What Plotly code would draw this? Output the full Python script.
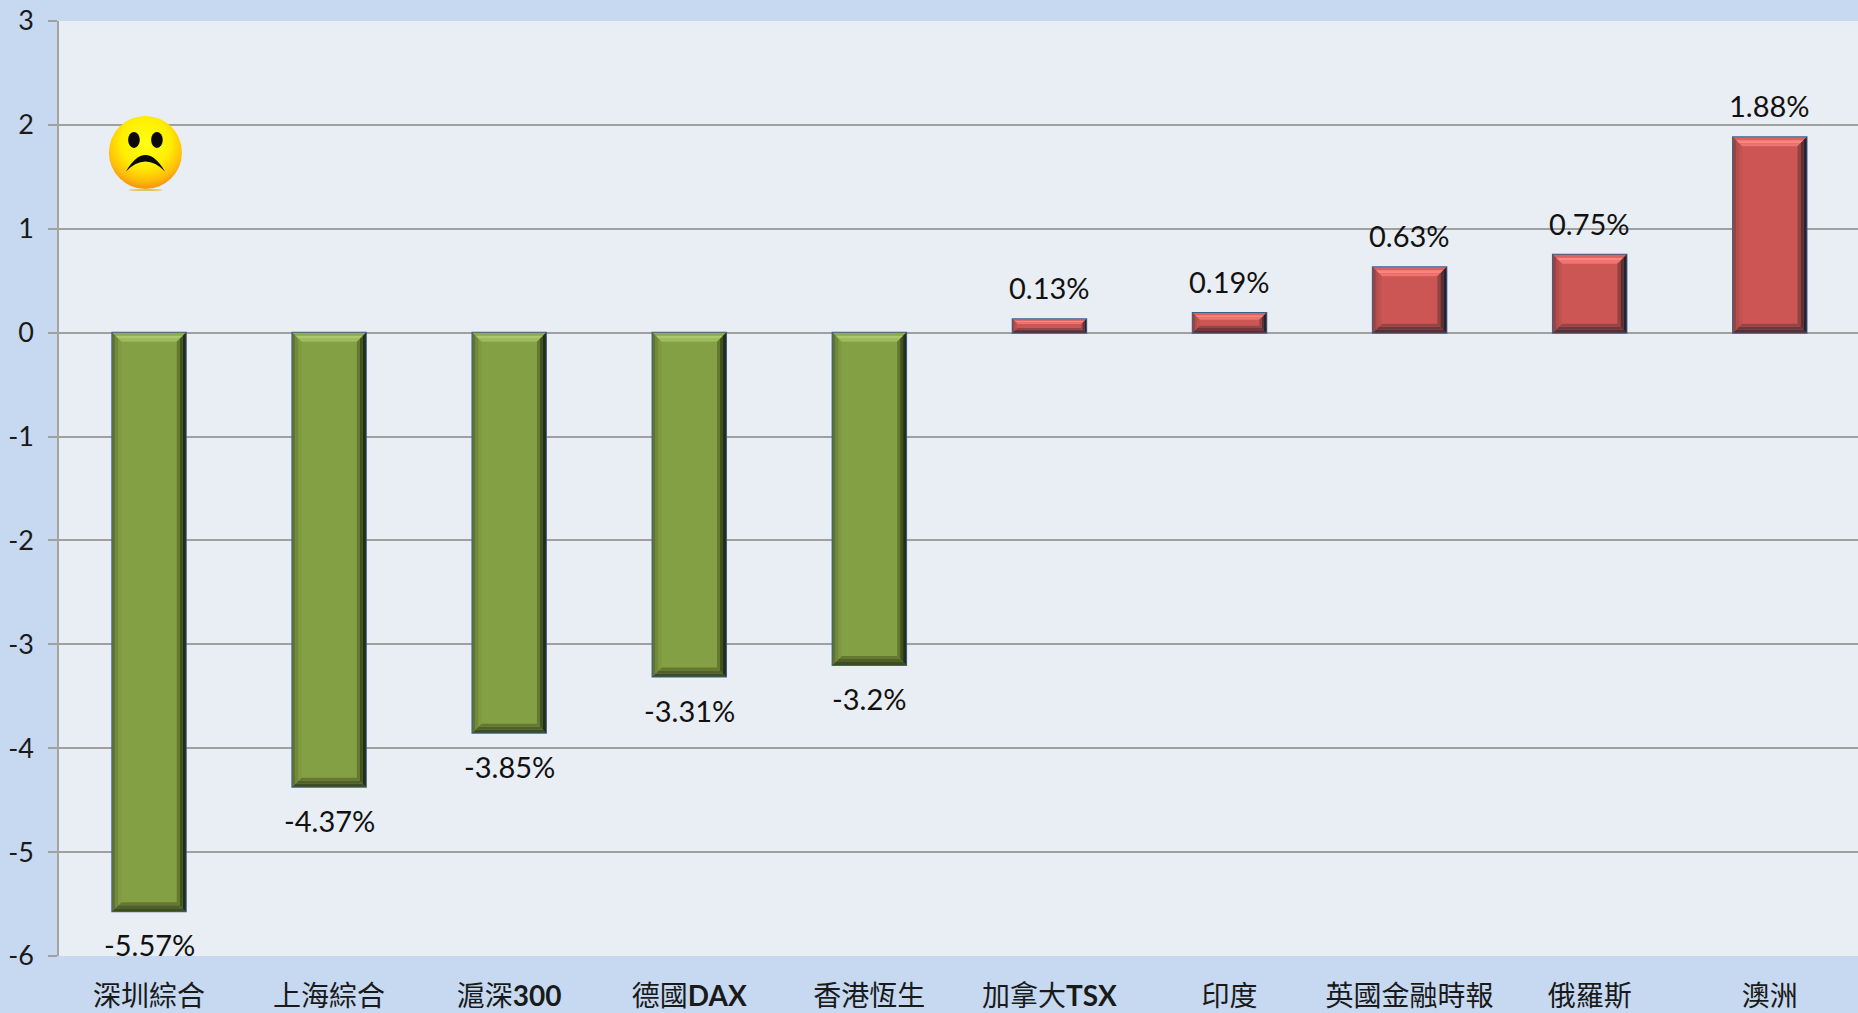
import base64
import plotly.graph_objects as go

categories = ["深圳綜合", "上海綜合", "滬深<b>300</b>", "德國<b>DAX</b>", "香港恆生",
              "加拿大<b>TSX</b>", "印度", "英國金融時報", "俄羅斯", "澳洲"]
values = [-5.57, -4.37, -3.85, -3.31, -3.2, 0.13, 0.19, 0.63, 0.75, 1.88]
y_ticks = [3, 2, 1, 0, -1, -2, -3, -4, -5, -6]

W, H = 1858, 1013
ML, MR, MT, MB = 59, 0, 21, 57
X_RANGE = [-0.5, 9.49]
PX = (X_RANGE[1] - X_RANGE[0]) / (W - ML - MR)
PY = 9 / (H - MT - MB)
BAR_W = 0.408
FONT = "Lato, 'Noto Sans CJK TC', sans-serif"

GREEN = dict(main="#84A044", top=["#8FAB4E", "#A9C96A", "#9DBB5E"], bottom=["#3E4C22", "#4F602B", "#64792F"],
             left=["#5E7430", "#73893A", "#7F9A42"], right=["#232E18", "#3F5122", "#64792F"])
RED = dict(main="#CC5654", top=["#D86462", "#FF8280", "#EE7472"], bottom=["#59302F", "#6E3938", "#964544"],
           left=["#9A4442", "#B44E4C", "#C25250"], right=["#28202A", "#553034", "#934341"])


def side_paths(v):
    x0, x1 = values.index(v) - BAR_W / 2, values.index(v) + BAR_W / 2
    yt, yb = max(v, 0), min(v, 0)
    dpx = min(9, abs(v) / PY / 2 * 0.7)
    out = []
    pal = GREEN if v < 0 else RED
    for k in range(3):
        a, b = dpx * k / 3, dpx * (k + 1) / 3
        ax, ay, bx, by = a * PX, a * PY, b * PX, b * PY
        out.append((f"M{x0+ax},{yt-ay}L{x1-ax},{yt-ay}L{x1-bx},{yt-by}L{x0+bx},{yt-by}Z", pal["top"][k]))
        out.append((f"M{x0+ax},{yb+ay}L{x1-ax},{yb+ay}L{x1-bx},{yb+by}L{x0+bx},{yb+by}Z", pal["bottom"][k]))
        out.append((f"M{x0+ax},{yt-ay}L{x0+ax},{yb+ay}L{x0+bx},{yb+by}L{x0+bx},{yt-by}Z", pal["left"][k]))
        out.append((f"M{x1-ax},{yt-ay}L{x1-ax},{yb+ay}L{x1-bx},{yb+by}L{x1-bx},{yt-by}Z", pal["right"][k]))
    return out


shapes = []
for v in values:
    for path, col in side_paths(v):
        shapes.append(dict(type="path", path=path, fillcolor=col, line=dict(width=0), layer="above"))

fig = go.Figure(go.Bar(
    x=list(range(len(values))), y=values, width=BAR_W,
    marker=dict(color=[GREEN["main"] if v < 0 else RED["main"] for v in values],
                line=dict(color="#3F5F8A", width=2)),
    hoverinfo="skip", cliponaxis=False,
))

annotations = [
    dict(x=i, y=v, xref="x", yref="y", text=f"{v}%", showarrow=False,
         yanchor="top" if v < 0 else "bottom", yshift=-14 if v < 0 else 12,
         font=dict(family=FONT, size=29, color="#111111"))
    for i, v in enumerate(values)
]

svg = """<svg xmlns='http://www.w3.org/2000/svg' viewBox='0 0 80 84' width='240' height='252'>
<defs><radialGradient id='g' cx='.5' cy='.36' r='.62'>
<stop offset='0' stop-color='#FFFF12'/><stop offset='.55' stop-color='#FFEE00'/>
<stop offset='.85' stop-color='#FFBE0A'/><stop offset='1' stop-color='#F79A10'/></radialGradient></defs>
<ellipse cx='40' cy='77.5' rx='17' ry='1' fill='#D9C860'/>
<circle cx='40' cy='40' r='36.5' fill='url(#g)'/>
<ellipse cx='28.5' cy='27.5' rx='5.8' ry='8' fill='#0A0A0A'/>
<ellipse cx='51.5' cy='27.5' rx='5.8' ry='8' fill='#0A0A0A'/>
<path d='M20.5 59 Q30 42.5 40 42.5 Q50 42.5 59.5 59 Q50 49 40 49 Q30 49 20.5 59Z' fill='#0A0A0A'/>
</svg>"""
uri = "data:image/svg+xml;base64," + base64.b64encode(svg.encode()).decode()
img_w, img_h = 80 * PX, 84 * PY

fig.update_layout(
    width=W, height=H, showlegend=False,
    margin=dict(l=ML, r=MR, t=MT, b=MB, pad=0),
    paper_bgcolor="#C6D9F1", plot_bgcolor="#E9EDF4",
    shapes=shapes, annotations=annotations,
    images=[dict(source=uri, xref="x", yref="y", x=-0.02, y=1.735 + 40 * PY,
                 sizex=img_w, sizey=img_h, xanchor="center", yanchor="top",
                 sizing="stretch", layer="above")],
    xaxis=dict(tickmode="array", tickvals=list(range(len(categories))), ticktext=categories,
               range=X_RANGE, showgrid=False, zeroline=False, ticks="", showline=False,
               tickfont=dict(family=FONT, size=28, color="#1A1A1A"), ticklabelstandoff=21, fixedrange=True),
    yaxis=dict(tickmode="array", tickvals=y_ticks, ticktext=[str(t) for t in y_ticks], range=[-6, 3],
               showgrid=True, gridcolor="#A0A0A0", gridwidth=1.5, zeroline=False,
               ticks="outside", ticklen=9, tickcolor="#A0A0A0", tickwidth=1.5,
               showline=True, linecolor="#A4A4A4", linewidth=1.5,
               tickfont=dict(family=FONT, size=27, color="#1A1A1A"), ticklabelstandoff=9, fixedrange=True),
)
fig.write_html("out.html", config=dict(displayModeBar=False),
               post_script="document.body.style.margin='0';document.body.style.overflow='hidden';")
